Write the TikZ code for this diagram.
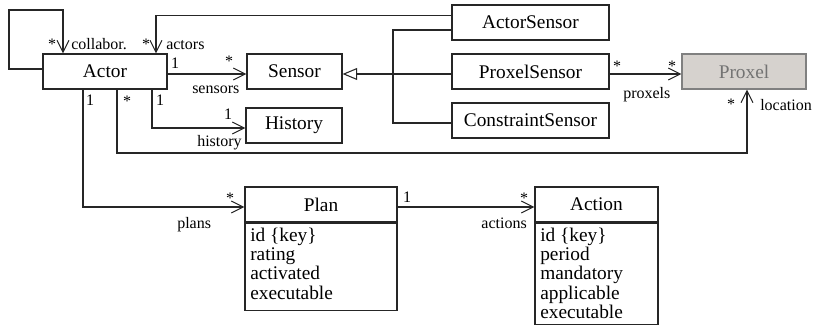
\documentclass[tikz,border=0pt]{standalone}
\usepackage{fontspec}
\setmainfont{Liberation Serif}
\usetikzlibrary{arrows.meta}
\begin{document}
\begin{tikzpicture}[x=0.75pt,y=-0.75pt,
  cls/.style={draw=black!85, line width=0.8pt, inner sep=0pt, minimum height=26.25pt, font=\fontsize{14.5}{14.5}\selectfont},
  body/.style={draw=black!85, line width=0.8pt, inner sep=0pt},
  attr/.style={inner sep=0pt, anchor=base west, font=\fontsize{14.5}{14.5}\selectfont},
  lab/.style={inner sep=0pt, font=\fontsize{12}{12}\selectfont},
  conn/.style={draw=black!85, line width=0.8pt},
  assoc/.style={conn, -{Straight Barb[length=9pt,width=9pt,line width=0.8pt]}},
  gen/.style={conn, -{Triangle[open,length=11pt,width=9pt,fill=white,line width=0.8pt]}}]
\useasboundingbox (0,0) rectangle (814,325);

% classes
\node[cls, minimum width=93pt] (actor) at (105,71.5) {Actor};
\node[cls, minimum width=71.25pt] (sensor) at (294.5,71.5) {Sensor};
\node[cls, minimum width=72pt] (history) at (294,125.5) {History};
\node[cls, minimum width=117.75pt] (actorsensor) at (530.5,22.5) {ActorSensor};
\node[cls, minimum width=117.75pt] (proxelsensor) at (530.5,71.5) {ProxelSensor};
\node[cls, minimum width=117.75pt] (constraintsensor) at (530.5,120.5) {ConstraintSensor};
\node[cls, minimum width=93pt, draw=black!50, fill={rgb,255:red,214;green,210;blue,206}, text=black!55] (proxel) at (744,71.5) {Proxel};

\node[cls, minimum width=114pt] (plan) at (321,204.5) {Plan};
\node[body, minimum width=114pt, minimum height=65.25pt, anchor=north] (planbody) at (plan.south) {};
\node[cls, minimum width=92.25pt] (action) at (596.5,204.5) {Action};
\node[body, minimum width=92.25pt, minimum height=75.75pt, anchor=north] (actionbody) at (action.south) {};

\foreach \t [count=\i] in {id \{key\}, rating, activated, executable}
  \node[attr] (pa\i) at (250,{241.7+19.1*(\i-1)}) {\t};
\foreach \t [count=\i] in {id \{key\}, period, mandatory, applicable, executable}
  \node[attr] (aa\i) at (540,{241.5+19.2*(\i-1)}) {\t};

% associations
\draw[assoc] (actor.west |- 0,69) -- (9,69) -- (9,10) -- (63,10) -- (actor.north -| 63,0);
\draw[assoc] (actorsensor.west |- 0,15.5) -- (156,15.5) -- (actor.north -| 156,0);
\draw[assoc] (actor.east |- 0,74) -- (sensor.west |- 0,74);
\draw[assoc] (actor.south -| 152,0) -- (152,128) -- (history.west |- 0,128);
\draw[assoc] (actor.south -| 83,0) -- (83,207) -- (plan.west |- 0,207);
\draw[assoc] (actor.south -| 117,0) -- (117,153) -- (747,153) -- (proxel.south -| 747,0);
\draw[assoc] (proxelsensor.east |- 0,74) -- (proxel.west |- 0,74);
\draw[assoc] (plan.east |- 0,207) -- (action.west |- 0,207);

% generalization
\draw[gen] (proxelsensor.west |- 0,74) -- (sensor.east |- 0,74);
\draw[conn] (actorsensor.west |- 0,30) -- (393,30) -- (393,123) -- (constraintsensor.west |- 0,123);

% labels
\node[lab, anchor=base] (l1) at (52,49) {*};
\node[lab, anchor=base west] (l2) at (71,49) {collabor.};
\node[lab, anchor=base] (l3) at (146,49) {*};
\node[lab, anchor=base west] (l4) at (166,49) {actors};
\node[lab, anchor=base] (l5) at (175,68) {1};
\node[lab, anchor=base] (l6) at (229,66) {*};
\node[lab, anchor=base west] (l7) at (192,93) {sensors};
\node[lab, anchor=base] (l8) at (90,105) {1};
\node[lab, anchor=base] (l9) at (127,106) {*};
\node[lab, anchor=base] (l10) at (160,105) {1};
\node[lab, anchor=base] (l11) at (228,119) {1};
\node[lab, anchor=base west] (l12) at (197,146) {history};
\node[lab, anchor=base] (l13) at (617,71) {*};
\node[lab, anchor=base] (l14) at (672,71) {*};
\node[lab, anchor=base west] (l15) at (623,98) {proxels};
\node[lab, anchor=base] (l16) at (731,109) {*};
\node[lab, anchor=base west] (l17) at (760,110) {location};
\node[lab, anchor=base] (l18) at (230,203) {*};
\node[lab, anchor=base west] (l19) at (177,228) {plans};
\node[lab, anchor=base] (l20) at (407,202) {1};
\node[lab, anchor=base] (l21) at (524,203) {*};
\node[lab, anchor=base east] (l22) at (527,228) {actions};
\end{tikzpicture}
\end{document}
